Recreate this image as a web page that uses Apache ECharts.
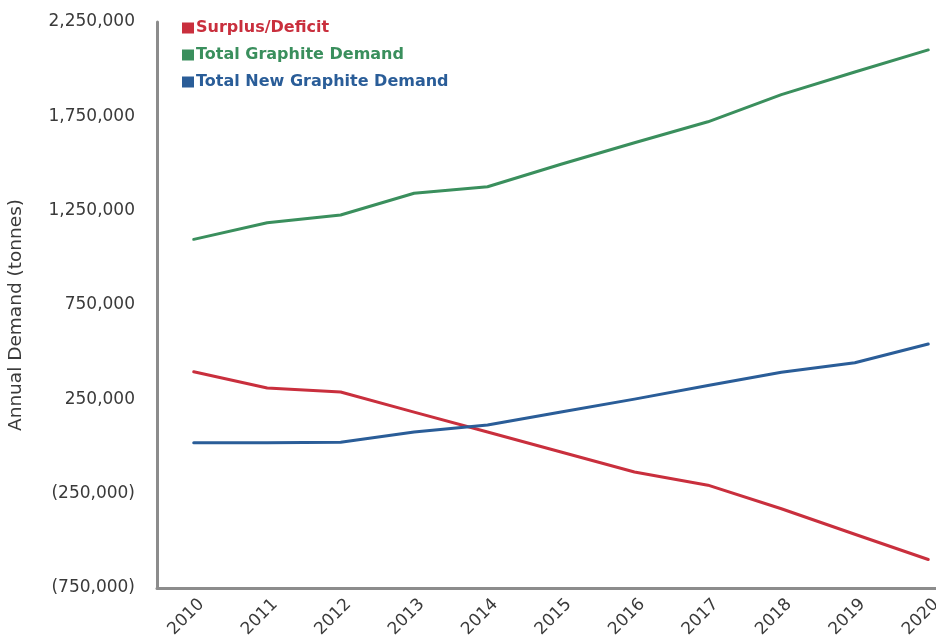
<!DOCTYPE html>
<html>
<head>
<meta charset="utf-8">
<script src="https://cdn.jsdelivr.net/npm/echarts@6/dist/echarts.min.js"></script>
<style>
  html, body { margin: 0; padding: 0; background: #ffffff; }
  #chart { width: 936px; height: 637px; }
</style>
</head>
<body>
<div id="chart"></div>
<script>
// Years on the category axis
const years = ['2010', '2011', '2012', '2013', '2014', '2015', '2016', '2017', '2018', '2019', '2020'];

// Annual values in tonnes
const surplusDeficit = [396000, 310000, 289000, 182000, 77000, -29000, -135000, -205000, -330000, -465000, -599000];
const totalGraphiteDemand = [1098000, 1186000, 1227000, 1342000, 1377000, 1496000, 1610000, 1721000, 1865000, 1985000, 2102000];
const totalNewGraphiteDemand = [20000, 20000, 22000, 77000, 114000, 183000, 251000, 323000, 394000, 444000, 543000];

// Value axis range and step
const yMin = -750000;
const yMax = 2250000;
const yStep = 500000;

const seriesNames = ['Surplus/Deficit', 'Total Graphite Demand', 'Total New Graphite Demand'];
const seriesColors = ['#c92f3d', '#3a8f5d', '#2a5d98'];
const seriesData = [surplusDeficit, totalGraphiteDemand, totalNewGraphiteDemand];

const FONT = '"DejaVu Sans", "Liberation Sans", Arial, sans-serif';
const axisGray = '#8c8c8c';

function fmtTonnes(v) {
  const s = Math.abs(v).toLocaleString('en-US');
  return v < 0 ? '(' + s + ')' : s;
}

const chart = echarts.init(document.getElementById('chart'), null, { renderer: 'canvas' });

chart.setOption({
  animation: false,
  backgroundColor: '#ffffff',
  textStyle: { fontFamily: FONT },
  legend: {
    orient: 'vertical',
    left: 177,
    top: 15,
    itemWidth: 12,
    itemHeight: 11,
    itemGap: 11,
    icon: 'rect',
    selectedMode: false,
    textStyle: { fontFamily: FONT, fontSize: 16, fontWeight: 'bold', padding: [0, 0, 0, -3] },
    data: seriesNames.map((n, i) => ({ name: n, textStyle: { color: seriesColors[i] } }))
  },
  grid: {
    left: 157,
    top: 22,
    bottom: 49,
    right: -29,
    containLabel: false,
    outerBoundsMode: 'none'
  },
  xAxis: {
    type: 'category',
    data: years,
    boundaryGap: true,
    axisLine: { show: true, onZero: false, lineStyle: { color: axisGray, width: 3 } },
    axisTick: { show: false },
    axisLabel: {
      rotate: 45,
      margin: 6,
      verticalAlign: 'top',
      lineHeight: 22,
      color: '#3a3a3a',
      fontFamily: FONT,
      fontSize: 17,
      interval: 0
    },
    splitLine: { show: false }
  },
  yAxis: {
    type: 'value',
    min: yMin,
    max: yMax,
    interval: yStep,
    name: 'Annual Demand (tonnes)',
    nameLocation: 'middle',
    nameGap: 131,
    nameTextStyle: { color: '#3a3a3a', fontFamily: FONT, fontSize: 18.5, padding: [0, 20, 0, 0] },
    axisLine: { show: true, onZero: false, lineStyle: { color: axisGray, width: 3 } },
    axisTick: { show: false },
    axisLabel: {
      margin: 22,
      color: '#3a3a3a',
      fontFamily: FONT,
      fontSize: 17,
      formatter: fmtTonnes
    },
    splitLine: { show: false }
  },
  series: seriesNames.map((n, i) => ({
    name: n,
    type: 'line',
    data: seriesData[i],
    showSymbol: false,
    symbol: 'none',
    color: seriesColors[i],
    lineStyle: { color: seriesColors[i], width: 3, join: 'round', cap: 'round' },
    clip: false
  }))
});
</script>
</body>
</html>
